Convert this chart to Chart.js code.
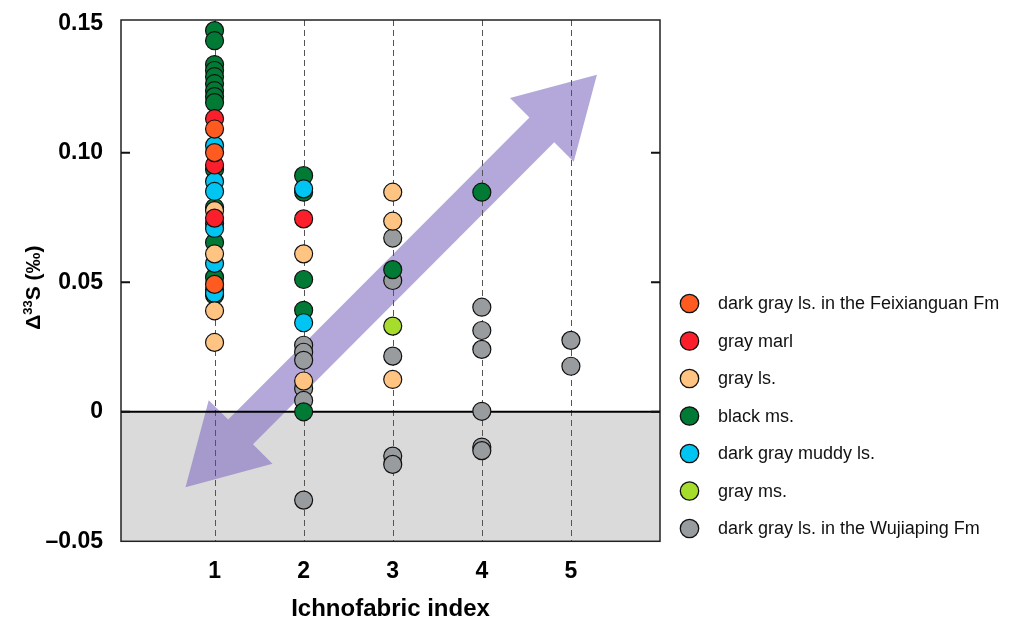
<!DOCTYPE html>
<html>
<head>
<meta charset="utf-8">
<script src="https://cdn.jsdelivr.net/npm/chart.js@4.4.1/dist/chart.umd.min.js"></script>
<style>
  html, body { margin: 0; padding: 0; background: #fff; }
  #wrap { width: 1013px; height: 624px; position: relative; }
</style>
</head>
<body>
<div id="wrap"><canvas id="c" width="1013" height="624"></canvas></div>
<script>
// Axis ticks
const xTickValues = [1, 2, 3, 4, 5];
const xTickLabels = ['1', '2', '3', '4', '5'];
const yTickValues = [-0.05, 0, 0.05, 0.10, 0.15];
const yTickLabels = ['\u20130.05', '0', '0.05', '0.10', '0.15'];

// Δ33S (‰) by ichnofabric index, one pair of lists per lithology
const feixianguanX = [1, 1, 1];
const feixianguanY = [0.1092, 0.1001, 0.0492];

const grayMarlX = [1, 1, 1, 2];
const grayMarlY = [0.1132, 0.0953, 0.0748, 0.0745];

const grayLsX = [1, 1, 1, 1, 2, 2, 3, 3, 3];
const grayLsY = [0.0777, 0.0610, 0.0390, 0.0268, 0.0610, 0.0119, 0.0848, 0.0736, 0.0125];

const blackMsX = [1, 1, 1, 1, 1, 1, 1, 1, 1, 1, 1, 1, 1, 1, 2, 2, 2, 2, 2, 3, 4];
const blackMsY = [0.1472, 0.1433, 0.1341, 0.1318, 0.1294, 0.1267, 0.1240, 0.1217, 0.1194,
                  0.0936, 0.0789, 0.0654, 0.0519, 0.0450,
                  0.0912, 0.0848, 0.0511, 0.0392, 0.0000, 0.0549, 0.0848];

const muddyLsX = [1, 1, 1, 1, 1, 1, 1, 1, 2, 2];
const muddyLsY = [0.1028, 0.0889, 0.0851, 0.0727, 0.0708, 0.0573, 0.0469, 0.0458, 0.0861, 0.0344];

const grayMsX = [3];
const grayMsY = [0.0331];

const wujiapingX = [2, 2, 2, 2, 2, 2, 3, 3, 3, 3, 3, 4, 4, 4, 4, 4, 4, 5, 5];
const wujiapingY = [0.0257, 0.0230, 0.0199, 0.0090, 0.0044, -0.0341,
                    0.0671, 0.0507, 0.0215, -0.0171, -0.0203,
                    0.0404, 0.0314, 0.0241, 0.0002, -0.0136, -0.0150,
                    0.0276, 0.0176];

// Trend arrow ends, in axis units (index, Δ33S)
const trendLow = [0.674, -0.0291];
const trendHigh = [5.292, 0.1302];

const legendOrder = [
  'dark gray ls. in the Feixianguan Fm',
  'gray marl',
  'gray ls.',
  'black ms.',
  'dark gray muddy ls.',
  'gray ms.',
  'dark gray ls. in the Wujiaping Fm'
];

const SANS = '"Liberation Sans", Arial, Helvetica, sans-serif';

function pts(xs, ys) { return xs.map((x, i) => ({ x: x, y: ys[i] })); }

function series(label, xs, ys, color) {
  return {
    label: label,
    data: pts(xs, ys),
    backgroundColor: color,
    borderColor: '#111',
    borderWidth: 1.2,
    pointRadius: 9,
    pointHoverRadius: 9,
    pointStyle: 'circle'
  };
}

// first dataset is painted last (on top)
const datasets = [
  series('dark gray ls. in the Feixianguan Fm', feixianguanX, feixianguanY, '#ff5a1f'),
  series('gray marl', grayMarlX, grayMarlY, '#fb1f2b'),
  series('gray ls.', grayLsX, grayLsY, '#ffc382'),
  series('dark gray muddy ls.', muddyLsX, muddyLsY, '#00c4f1'),
  series('black ms.', blackMsX, blackMsY, '#007a35'),
  series('gray ms.', grayMsX, grayMsY, '#a6dc2b'),
  series('dark gray ls. in the Wujiaping Fm', wujiapingX, wujiapingY, '#999c9f')
];

function arrowPolygon(ctx, x0, y0, x1, y1, shaftW, headW, headL) {
  const dx = x1 - x0, dy = y1 - y0;
  const len = Math.hypot(dx, dy);
  const ux = dx / len, uy = dy / len;
  const nx = -uy, ny = ux;
  const p = (along, side) => [x0 + ux * along + nx * side, y0 + uy * along + ny * side];
  const s = shaftW / 2, h = headW / 2;
  const pts = [
    p(0, 0),
    p(headL, h), p(headL, s),
    p(len - headL, s), p(len - headL, h),
    p(len, 0),
    p(len - headL, -h), p(len - headL, -s),
    p(headL, -s), p(headL, -h)
  ];
  ctx.beginPath();
  pts.forEach((q, i) => i ? ctx.lineTo(q[0], q[1]) : ctx.moveTo(q[0], q[1]));
  ctx.closePath();
}

const backdrop = {
  id: 'backdrop',
  beforeDatasetsDraw(chart) {
    const { ctx, chartArea: a, scales: { x, y } } = chart;
    ctx.save();
    // negative Δ33S field
    const y0 = y.getPixelForValue(0);
    ctx.fillStyle = '#dadada';
    ctx.fillRect(a.left, y0, a.right - a.left, a.bottom - y0);

    // double-headed trend arrow
    ctx.fillStyle = 'rgba(132,115,194,0.62)';
    arrowPolygon(ctx,
      x.getPixelForValue(trendLow[0]), y.getPixelForValue(trendLow[1]),
      x.getPixelForValue(trendHigh[0]), y.getPixelForValue(trendHigh[1]),
      35, 90, 78);
    ctx.fill();

    // dashed guides at each index
    ctx.strokeStyle = '#555';
    ctx.lineWidth = 1;
    ctx.setLineDash([6, 4]);
    xTickValues.forEach(v => {
      const px = Math.round(x.getPixelForValue(v)) + 0.5;
      ctx.beginPath();
      ctx.moveTo(px, a.top);
      ctx.lineTo(px, a.bottom);
      ctx.stroke();
    });
    ctx.setLineDash([]);

    // zero line
    ctx.strokeStyle = '#000';
    ctx.lineWidth = 2;
    ctx.beginPath();
    ctx.moveTo(a.left, y0);
    ctx.lineTo(a.right, y0);
    ctx.stroke();
    ctx.restore();
  },
  afterDatasetsDraw(chart) {
    const { ctx, chartArea: a, scales: { y } } = chart;
    ctx.save();
    ctx.strokeStyle = '#222';
    ctx.lineWidth = 1.5;
    ctx.strokeRect(a.left, a.top, a.right - a.left, a.bottom - a.top);
    ctx.lineWidth = 2;
    ctx.strokeStyle = '#111';
    yTickValues.forEach(v => {
      if (v <= y.min || v >= 0.15) return;
      const py = y.getPixelForValue(v);
      ctx.beginPath();
      ctx.moveTo(a.left, py); ctx.lineTo(a.left + 9, py);
      ctx.moveTo(a.right, py); ctx.lineTo(a.right - 9, py);
      ctx.stroke();
    });
    ctx.restore();
  },
  afterDraw(chart) {
    const { ctx, chartArea: a } = chart;
    ctx.save();
    // y-axis title with superscript mass number
    const big = 'bold 21px ' + SANS, small = 'bold 13px ' + SANS;
    const parts = [['\u0394', big, 0], ['33', small, -8], ['S (\u2030)', big, 0]];
    ctx.textBaseline = 'alphabetic';
    ctx.textAlign = 'left';
    let total = 0;
    parts.forEach(p => { ctx.font = p[1]; total += ctx.measureText(p[0]).width; });
    ctx.translate(40, (a.top + a.bottom) / 2 + 7);
    ctx.rotate(-Math.PI / 2);
    ctx.fillStyle = '#000';
    let cx = -total / 2;
    parts.forEach(p => {
      ctx.font = p[1];
      ctx.fillText(p[0], cx, p[2]);
      cx += ctx.measureText(p[0]).width;
    });
    ctx.restore();

    ctx.save();
    ctx.font = '18px ' + SANS;
    ctx.textBaseline = 'middle';
    ctx.textAlign = 'left';
    legendOrder.forEach((name, i) => {
      const ds = chart.data.datasets.find(d => d.label === name);
      const cy = 303.5 + i * 37.5;
      ctx.beginPath();
      ctx.arc(689.5, cy, 9.2, 0, Math.PI * 2);
      ctx.fillStyle = ds.backgroundColor;
      ctx.fill();
      ctx.lineWidth = 1.3;
      ctx.strokeStyle = '#111';
      ctx.stroke();
      ctx.fillStyle = '#111';
      ctx.fillText(name, 718, cy + 1);
    });
    ctx.restore();
  }
};

new Chart(document.getElementById('c'), {
  type: 'scatter',
  data: { datasets: datasets },
  plugins: [backdrop],
  options: {
    responsive: false,
    animation: false,
    events: [],
    layout: { padding: { top: 20, right: 353, bottom: 0, left: 0 } },
    plugins: { legend: { display: false }, tooltip: { enabled: false } },
    scales: {
      x: {
        type: 'linear',
        min: -0.05,
        max: 6,
        grid: { display: false, drawTicks: false },
        border: { display: false },
        afterBuildTicks: s => { s.ticks = xTickValues.map(v => ({ value: v })); },
        afterFit: s => { s.height = 82.7; s.paddingLeft = 0; s.paddingRight = 0; },
        ticks: {
          padding: 17,
          color: '#000',
          font: { family: SANS, size: 23, weight: 'bold' },
          callback: (v, i) => xTickLabels[i]
        },
        title: {
          display: true,
          text: 'Ichnofabric index',
          color: '#000',
          font: { family: SANS, size: 24, weight: 'bold' },
          padding: { top: 0, bottom: 0 }
        }
      },
      y: {
        type: 'linear',
        min: -0.05,
        max: 0.1513,
        grid: { display: false, drawTicks: false },
        border: { display: false },
        afterBuildTicks: s => { s.ticks = yTickValues.map(v => ({ value: v })); },
        afterFit: s => { s.width = 121; s.paddingTop = 0; s.paddingBottom = 0; },
        ticks: {
          padding: 18,
          color: '#000',
          font: { family: SANS, size: 23, weight: 'bold' },
          callback: (v, i) => yTickLabels[i]
        }
      }
    }
  }
});
</script>
</body>
</html>
